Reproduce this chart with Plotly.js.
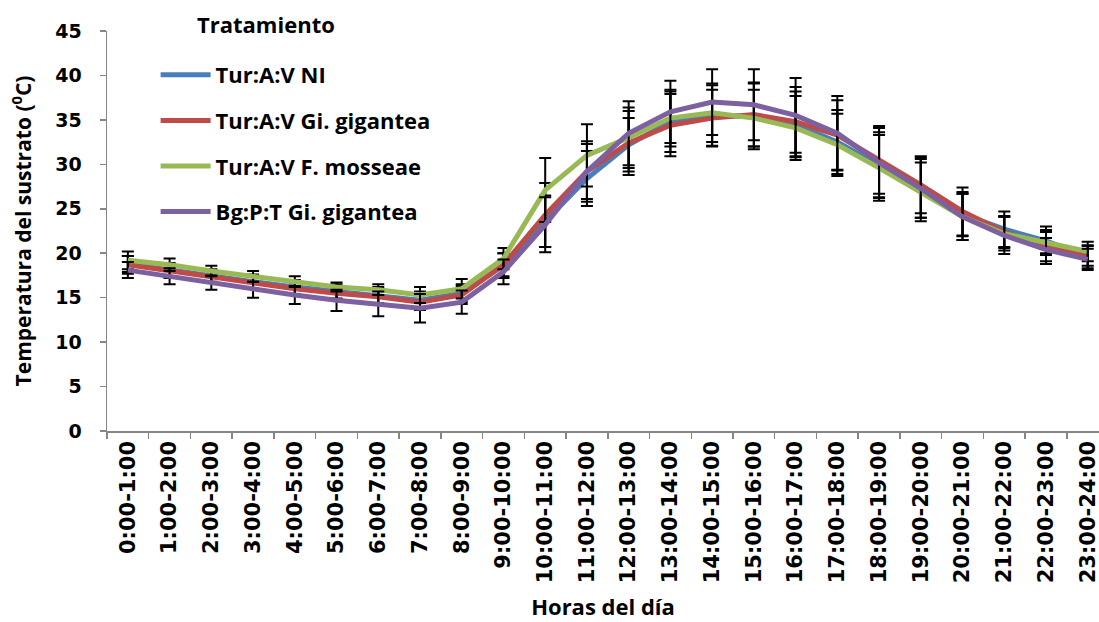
<!DOCTYPE html>
<html>
<head>
<meta charset="utf-8">
<script src="https://cdn.plot.ly/plotly-3.0.1.min.js"></script>
<style>html,body{margin:0;padding:0;background:#fff;}#chart{width:1099px;height:622px;}</style>
</head>
<body>
<div id="chart"></div>
<script>
const hours = ["0:00-1:00","1:00-2:00","2:00-3:00","3:00-4:00","4:00-5:00","5:00-6:00","6:00-7:00","7:00-8:00","8:00-9:00","9:00-10:00","10:00-11:00","11:00-12:00","12:00-13:00","13:00-14:00","14:00-15:00","15:00-16:00","16:00-17:00","17:00-18:00","18:00-19:00","19:00-20:00","20:00-21:00","21:00-22:00","22:00-23:00","23:00-24:00"];

const seriesNames = ["Tur:A:V NI","Tur:A:V Gi. gigantea","Tur:A:V F. mosseae","Bg:P:T Gi. gigantea"];

const turNI      = [18.8,18.1,17.5,16.8,16.2,15.7,15.3,14.7,15.5,18.6,23.6,28.4,32.2,34.8,35.5,35.4,34.5,32.5,29.9,27.4,24.4,22.7,21.4,19.6];
const turGig     = [18.7,18.0,17.4,16.7,16.0,15.5,15.1,14.5,15.3,18.7,24.3,29.2,32.4,34.4,35.2,35.6,34.8,33.3,30.5,27.7,24.7,22.4,20.7,19.7];
const turMos     = [19.2,18.7,18.0,17.4,16.8,16.2,15.9,15.3,16.0,19.4,27.1,31.0,33.0,35.2,35.8,35.2,34.1,32.2,29.6,26.9,24.1,22.2,21.2,20.2];
const bgGig      = [18.1,17.4,16.7,15.9,15.3,14.7,14.3,13.8,14.5,17.9,23.2,29.2,33.5,35.9,37.0,36.7,35.5,33.5,30.2,27.3,24.1,22.0,20.4,19.3];

const errTurNI  = [0.9,0.8,0.7,0.8,0.8,0.8,0.9,1.0,1.0,1.4,2.9,3.1,3.0,3.4,3.4,3.7,3.7,3.6,3.7,3.4,2.5,2.0,1.6,1.3];
const errTurGig = [1.0,0.8,0.7,0.7,0.7,0.7,0.8,0.9,1.0,1.3,3.6,3.1,3.6,3.5,3.2,3.6,3.9,3.9,3.8,3.2,2.7,1.8,1.9,1.1];
const errTurMos = [1.0,0.7,0.6,0.6,0.6,0.5,0.6,0.9,1.1,1.2,3.6,3.5,3.4,3.2,3.3,3.2,3.6,3.5,3.7,3.3,2.6,1.9,1.2,1.1];
const errBgGig  = [0.9,0.9,0.8,0.9,1.0,1.2,1.4,1.6,1.3,1.4,3.1,3.4,3.6,3.5,3.7,4.0,4.2,4.2,3.9,3.3,2.6,2.1,1.3,1.2];

const values = [turNI, turGig, turMos, bgGig];
const errors = [errTurNI, errTurGig, errTurMos, errBgGig];
const colors = ["#4a7ebb","#be4b48","#98b954","#7d60a0"];

const traces = values.map((v, i) => ({
  type: "scatter",
  mode: "lines",
  x: hours,
  y: v,
  name: seriesNames[i],
  legendgroup: "g" + i,
  line: {color: colors[i], width: 5},
  error_y: {type: "data", array: errors[i], visible: true, color: "#000000", thickness: 2, width: 6}
}));

const textFont = "'Open Sans', Lato, Arial, sans-serif";

const layout = {
  width: 1099, height: 622,
  margin: {l: 107, r: 0, t: 31, b: 191},
  paper_bgcolor: "#ffffff",
  plot_bgcolor: "#ffffff",
  showlegend: true,
  legend: {
    x: 0.049, y: 0.9425, xanchor: "left", yanchor: "top",
    traceorder: "grouped", tracegroupgap: 14,
    font: {family: textFont, size: 22, color: "#000", weight: "bold"},
    bgcolor: "rgba(0,0,0,0)", itemwidth: 50
  },
  annotations: [{
    text: "<b>Tratamiento</b>", xref: "paper", yref: "paper",
    x: 0.16, y: 1.0175, xanchor: "center", yanchor: "middle", showarrow: false,
    font: {family: textFont, size: 22, color: "#000"}
  }],
  xaxis: {
    type: "category",
    range: [-0.5, 23.27],
    tickson: "boundaries",
    ticks: "outside", ticklen: 6, tickcolor: "#868686", tickwidth: 1.5,
    showline: true, linecolor: "#868686", linewidth: 1.5,
    showgrid: false, zeroline: false,
    tickangle: -90,
    tickfont: {family: "'DejaVu Sans', sans-serif", size: 21, color: "#000", weight: "bold"},
    title: {text: "<b>Horas del día</b>", font: {family: textFont, size: 22, color: "#000"}, standoff: 17}
  },
  yaxis: {
    range: [0, 45], dtick: 5,
    ticks: "outside", ticklen: 6, tickcolor: "#868686", tickwidth: 1.5,
    showline: true, linecolor: "#868686", linewidth: 1.5,
    showgrid: false, zeroline: false,
    ticklabelstandoff: 14,
    tickfont: {family: "'DejaVu Sans', sans-serif", size: 19, color: "#000", weight: "bold"},
    title: {text: "<b>Temperatura del sustrato (<sup>0</sup>C)</b>", font: {family: textFont, size: 21, color: "#000"}, standoff: 18}
  }
};

Plotly.newPlot("chart", traces, layout, {displayModeBar: false, staticPlot: true});
</script>
</body>
</html>
